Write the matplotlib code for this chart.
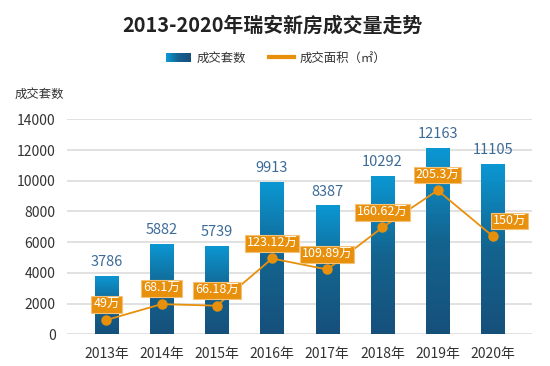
import matplotlib
matplotlib.use("Agg")
import matplotlib.pyplot as plt
import numpy as np
from matplotlib.colors import LinearSegmentedColormap
from matplotlib.legend_handler import HandlerBase
from matplotlib.patches import Rectangle
from matplotlib.lines import Line2D
from matplotlib import font_manager

plt.rcParams['font.family'] = ['Noto Sans CJK SC', 'DejaVu Sans']

years = ["2013年", "2014年", "2015年", "2016年", "2017年", "2018年", "2019年", "2020年"]
units = [3786, 5882, 5739, 9913, 8387, 10292, 12163, 11105]
area_wan = [49, 68.1, 66.18, 123.12, 109.89, 160.62, 205.3, 150]
area_labels = ["49万", "68.1万", "66.18万", "123.12万", "109.89万", "160.62万", "205.3万", "150万"]

title = "2013-2020年瑞安新房成交量走势"
bar_name = "成交套数"
line_name = "成交面积（㎡）"

names = {f.name for f in font_manager.fontManager.ttflist}
NUMFAM = (['Liberation Sans Narrow'] if 'Liberation Sans Narrow' in names else []) + ['Noto Sans CJK SC', 'DejaVu Sans']

TOP = "#0b98d4"
BOT = "#16507b"
ORANGE = "#e8900c"
cmap = LinearSegmentedColormap.from_list("g", [BOT, "#13648f", TOP])

fig = plt.figure(figsize=(5.5, 3.66), dpi=100)
W, H = 550, 366
ax = fig.add_axes([66.7 / W, 1 - 334.3 / H, (532 - 66.7) / W, (334.3 - 119.3) / H])

x = np.arange(len(years))
bars = ax.bar(x, units, width=0.42, color="none", zorder=2)

grad = np.linspace(0, 1, 256).reshape(-1, 1)
for b in bars:
    x0, w, h = b.get_x(), b.get_width(), b.get_height()
    im = ax.imshow(grad, cmap=cmap, origin="lower", aspect="auto",
                   extent=[x0, x0 + w, 0, h], zorder=2)
    im.set_clip_path(b)
    ax.annotate(f"{int(h)}", (x0 + w / 2, h), xytext=(0, 5),
                textcoords="offset points", ha="center", va="bottom",
                fontsize=10.5, color="#3d6b98", zorder=5, family=NUMFAM)
ax.set_xlim(-0.72, 7.71)
ax.set_ylim(0, 14000)

ax.set_yticks(np.arange(0, 14001, 2000))
ax.yaxis.grid(True, color="#dedede", linewidth=1.3, zorder=0)
ax.set_axisbelow(True)
for s in ax.spines.values():
    s.set_visible(False)
ax.tick_params(axis="both", length=0, colors="#333333")
ax.tick_params(axis="y", pad=8)
ax.tick_params(axis="x", pad=9)
ax.set_xticks(x)
ax.set_xticklabels(years)
for t in ax.get_xticklabels() + ax.get_yticklabels():
    t.set_family(NUMFAM)
    t.set_fontsize(10)

ax2 = ax.twinx()
ax2.set_ylim(31.7, 291)
ax2.set_xlim(-0.72, 7.71)
ax2.plot(x, area_wan, color=ORANGE, linewidth=1.3, marker="o", markersize=6.5,
         markeredgecolor=ORANGE, markerfacecolor=ORANGE, zorder=4)
for i, (xi, v, lab) in enumerate(zip(x, area_wan, area_labels)):
    dx = 12 if i == len(x) - 1 else 0
    ax2.annotate(lab, (xi, v), xytext=(dx, 11), textcoords="offset points",
                 ha="center", va="center", fontsize=9, color="white",
                 family=NUMFAM,
                 bbox=dict(boxstyle="square,pad=0.15", facecolor=ORANGE,
                           edgecolor="#f3c27a", linewidth=0.8), zorder=6)
ax2.axis("off")

fig.text(0.496, 1 - 25 / H, title, ha="center", va="center", fontsize=14.3,
         fontweight="bold", color="#222222")
fig.text(15 / W, 1 - 94 / H, bar_name, ha="left", va="center", fontsize=8.9,
         color="#333333")


class GradHandler(HandlerBase):
    def create_artists(self, legend, orig_handle, xdescent, ydescent, width,
                       height, fontsize, trans):
        n = 24
        arts = []
        for k in range(n):
            c = cmap(1 - k / (n - 1))
            r = Rectangle((xdescent + width * k / n, ydescent),
                          width / n + 0.3, height * 0.95, facecolor=c,
                          edgecolor="none", transform=trans)
            arts.append(r)
        return arts


bar_handle = Rectangle((0, 0), 1, 1)
line_handle = Line2D([0], [0], color=ORANGE, linewidth=3)
fig.legend([bar_handle, line_handle], [bar_name, line_name],
           handler_map={Rectangle: GradHandler()},
           loc="center", bbox_to_anchor=(276 / W, 1 - 58 / H), ncol=2,
           frameon=False, fontsize=8.9, handlelength=2.0, handletextpad=0.45,
           columnspacing=1.9, labelcolor="#333333")

fig.savefig("out.png", dpi=100)
